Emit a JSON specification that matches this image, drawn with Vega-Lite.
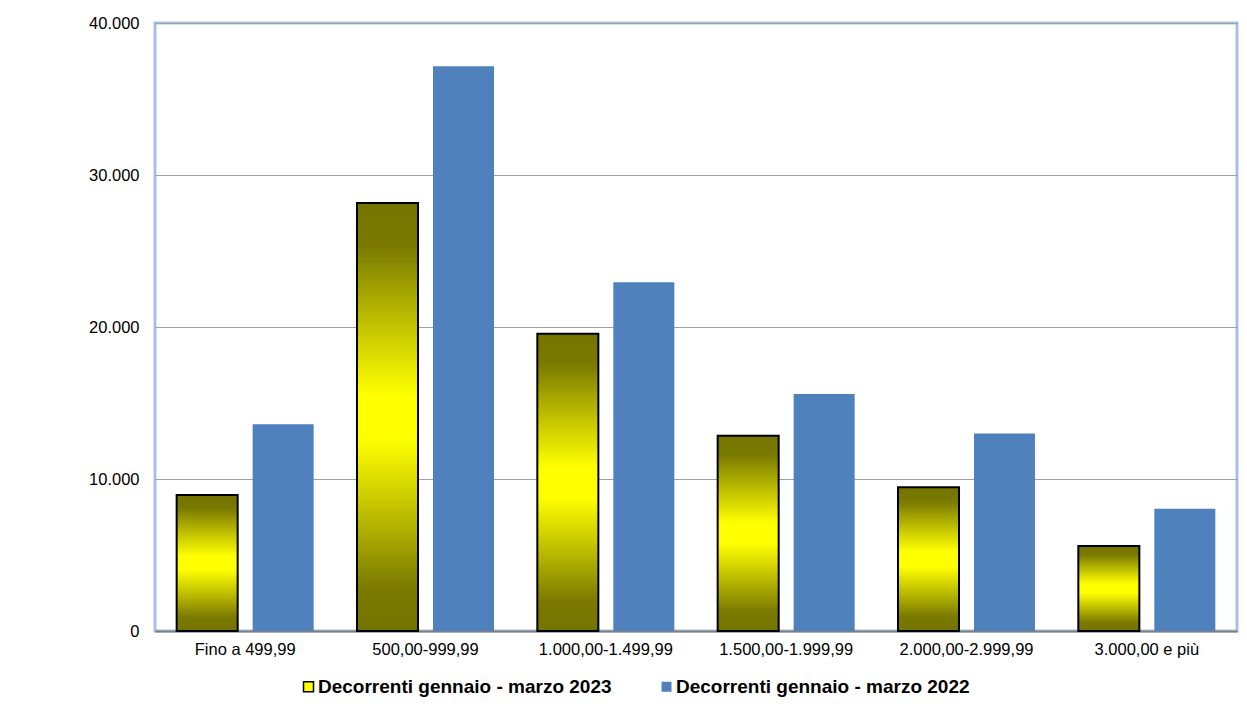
{
  "$schema": "https://vega.github.io/schema/vega-lite/v6.json",
  "width": 1082,
  "height": 608,
  "autosize": "none",
  "padding": {"left": 155, "top": 23, "right": 10, "bottom": 75},
  "background": "white",
  "config": {
    "locale": {"number": {"decimal": ",", "thousands": ".", "grouping": [3], "currency": ["€", ""]}},
    "view": {"stroke": "#A7BFE6", "strokeWidth": 3},
    "font": "Liberation Sans"
  },
  "data": {
    "values": [
      {"fascia": "Fino a 499,99", "serie": "Decorrenti gennaio - marzo 2023", "valore": 8950},
      {"fascia": "Fino a 499,99", "serie": "Decorrenti gennaio - marzo 2022", "valore": 13600},
      {"fascia": "500,00-999,99", "serie": "Decorrenti gennaio - marzo 2023", "valore": 28150},
      {"fascia": "500,00-999,99", "serie": "Decorrenti gennaio - marzo 2022", "valore": 37150},
      {"fascia": "1.000,00-1.499,99", "serie": "Decorrenti gennaio - marzo 2023", "valore": 19550},
      {"fascia": "1.000,00-1.499,99", "serie": "Decorrenti gennaio - marzo 2022", "valore": 22950},
      {"fascia": "1.500,00-1.999,99", "serie": "Decorrenti gennaio - marzo 2023", "valore": 12850},
      {"fascia": "1.500,00-1.999,99", "serie": "Decorrenti gennaio - marzo 2022", "valore": 15600},
      {"fascia": "2.000,00-2.999,99", "serie": "Decorrenti gennaio - marzo 2023", "valore": 9450},
      {"fascia": "2.000,00-2.999,99", "serie": "Decorrenti gennaio - marzo 2022", "valore": 13000},
      {"fascia": "3.000,00 e più", "serie": "Decorrenti gennaio - marzo 2023", "valore": 5600},
      {"fascia": "3.000,00 e più", "serie": "Decorrenti gennaio - marzo 2022", "valore": 8050}
    ]
  },
  "encoding": {
    "x": {
      "field": "fascia", "type": "nominal", "sort": null,
      "scale": {"paddingInner": 0, "paddingOuter": 0},
      "axis": {"title": null, "labelAngle": 0, "ticks": false, "domainColor": "#808080", "domainWidth": 2,
               "labelFontSize": 16.5, "labelPadding": 10, "labelColor": "#000", "grid": false, "labelLimit": 300}
    },
    "xOffset": {
      "field": "serie", "type": "nominal", "sort": null,
      "scale": {"domain": ["Decorrenti gennaio - marzo 2023", "Decorrenti gennaio - marzo 2022"], "paddingInner": 0.197, "paddingOuter": 0.285}
    },
    "y": {
      "field": "valore", "type": "quantitative",
      "scale": {"domain": [0, 40000]},
      "axis": {"title": null, "values": [0, 10000, 20000, 30000, 40000], "format": ",d", "domain": false, "ticks": false,
               "labelPadding": 16, "labelFontSize": 16.5, "labelColor": "#000", "gridColor": "#A0A0A0", "gridWidth": 1}
    }
  },
  "layer": [
    {
      "mark": {"type": "bar"},
      "encoding": {
        "color": {
          "field": "serie", "type": "nominal",
          "scale": {"domain": ["Decorrenti gennaio - marzo 2023", "Decorrenti gennaio - marzo 2022"], "range": ["#FFFF00", "#4F81BD"]},
          "legend": {
            "title": null, "orient": "none", "direction": "horizontal", "legendX": 144, "legendY": 654,
            "symbolType": "square", "symbolSize": 100, "labelFontSize": 19, "labelFontWeight": "bold",
            "labelColor": "#000", "labelLimit": 400, "columnPadding": 45, "labelOffset": 0,
            "encode": {"symbols": {"update": {
              "stroke": [{"test": "datum.value === 'Decorrenti gennaio - marzo 2023'", "value": "#000"}, {"value": "transparent"}],
              "strokeWidth": {"value": 1.5}
            }}}
          }
        }
      }
    },
    {
      "transform": [{"filter": "datum.serie === 'Decorrenti gennaio - marzo 2023'"}],
      "mark": {
        "type": "bar",
        "fill": {"gradient": "linear", "x1": 0, "y1": 0, "x2": 0, "y2": 1,
                 "stops": [
                   {"offset": 0, "color": "#737300"},
                   {"offset": 0.1, "color": "#7A7A00"},
                   {"offset": 0.3, "color": "#C8C800"},
                   {"offset": 0.45, "color": "#FFFF00"},
                   {"offset": 0.55, "color": "#FFFF00"},
                   {"offset": 0.7, "color": "#C8C800"},
                   {"offset": 0.9, "color": "#7A7A00"},
                   {"offset": 1, "color": "#737300"}
                 ]},
        "stroke": "#000", "strokeWidth": 2
      }
    }
  ]
}
